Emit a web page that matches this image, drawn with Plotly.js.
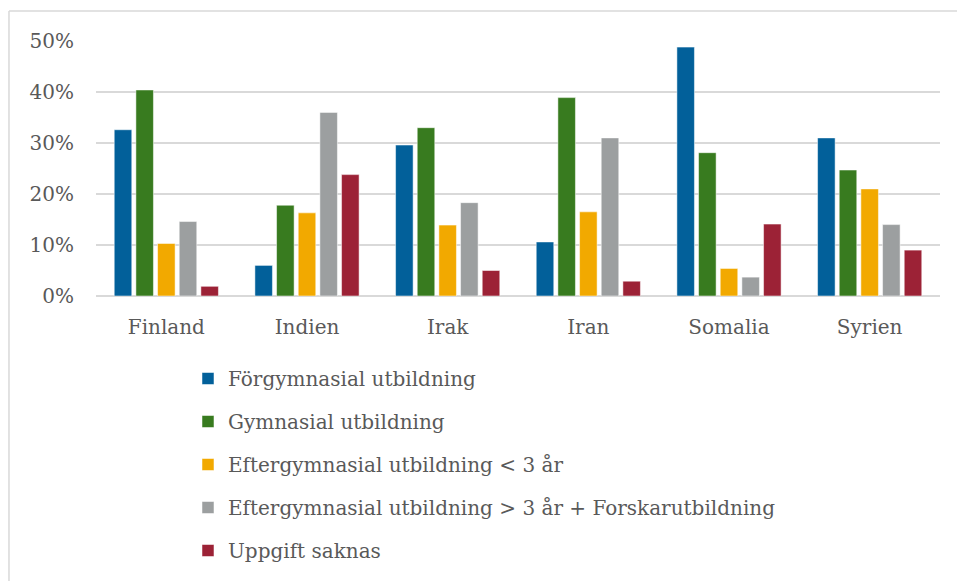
<!DOCTYPE html>
<html>
<head>
<meta charset="utf-8">
<script src="https://cdn.plot.ly/plotly-3.0.1.min.js"></script>
<style>html,body{margin:0;padding:0;background:#fff;}#chart{width:957px;height:581px;}</style>
</head>
<body>
<div id="chart"></div>
<script>
const categories = ["Finland", "Indien", "Irak", "Iran", "Somalia", "Syrien"];
const seriesNames = [
  "Förgymnasial utbildning",
  "Gymnasial utbildning",
  "Eftergymnasial utbildning < 3 år",
  "Eftergymnasial utbildning > 3 år + Forskarutbildning",
  "Uppgift saknas"
];
const forgymnasial = [0.326, 0.060, 0.296, 0.106, 0.488, 0.310];
const gymnasial = [0.404, 0.178, 0.330, 0.389, 0.281, 0.247];
const efterKort = [0.103, 0.163, 0.139, 0.165, 0.054, 0.210];
const efterLang = [0.146, 0.360, 0.183, 0.310, 0.037, 0.140];
const saknas = [0.019, 0.238, 0.050, 0.029, 0.141, 0.090];
const yTickVals = [0, 0.1, 0.2, 0.3, 0.4, 0.5];
const yTickText = ["0%", "10%", "20%", "30%", "40%", "50%"];

const seriesValues = [forgymnasial, gymnasial, efterKort, efterLang, saknas];
const colors = ["#02609A", "#387B1F", "#F2A900", "#9C9FA0", "#9C2236"];

const traces = seriesValues.map((vals, i) => ({
  type: "bar",
  name: seriesNames[i],
  x: categories,
  y: vals,
  legendgroup: "g" + i,
  marker: { color: colors[i], line: { color: "rgba(255,255,255,0.5)", width: 1 } },
  hoverinfo: "skip"
}));

const fontFam = "DejaVu Serif, serif";
const layout = {
  width: 957,
  height: 581,
  margin: { l: 96, r: 17, t: 41, b: 285 },
  paper_bgcolor: "#ffffff",
  plot_bgcolor: "#ffffff",
  barmode: "group",
  bargap: 0.23,
  bargroupgap: 0.19,
  showlegend: true,
  font: { family: fontFam, color: "#595959", size: 20 },
  xaxis: {
    type: "category",
    showgrid: false,
    showline: false,
    zeroline: false,
    ticks: "",
    ticklabelstandoff: 17,
    tickfont: { family: fontFam, size: 20, color: "#595959" }
  },
  yaxis: {
    range: [0, 0.5],
    tickvals: yTickVals,
    ticktext: yTickText,
    showgrid: true,
    gridcolor: "#D9D9D9",
    gridwidth: 1.5,
    zeroline: true,
    zerolinecolor: "#D9D9D9",
    zerolinewidth: 1.5,
    showline: false,
    ticks: "",
    ticklabelstandoff: 21,
    tickfont: { family: fontFam, size: 20, color: "#595959" }
  },
  legend: {
    orientation: "v",
    xref: "paper",
    yref: "container",
    x: 0.109,
    xanchor: "left",
    y: 1 - 359 / 581,
    yanchor: "top",
    traceorder: "grouped",
    tracegroupgap: 14,
    font: { family: fontFam, size: 20, color: "#595959" },
    bgcolor: "rgba(0,0,0,0)"
  },
  shapes: [
    { type: "line", xref: "paper", yref: "paper", x0: -0.1031, x1: 1.1, y0: 1.1176, y1: 1.1176, line: { color: "#D9D9D9", width: 1.5 } },
    { type: "line", xref: "paper", yref: "paper", x0: -0.1031, x1: -0.1031, y0: 1.1176, y1: -1.3, line: { color: "#D9D9D9", width: 1.5 } }
  ]
};

Plotly.newPlot("chart", traces, layout, { displayModeBar: false, staticPlot: true });
</script>
</body>
</html>
